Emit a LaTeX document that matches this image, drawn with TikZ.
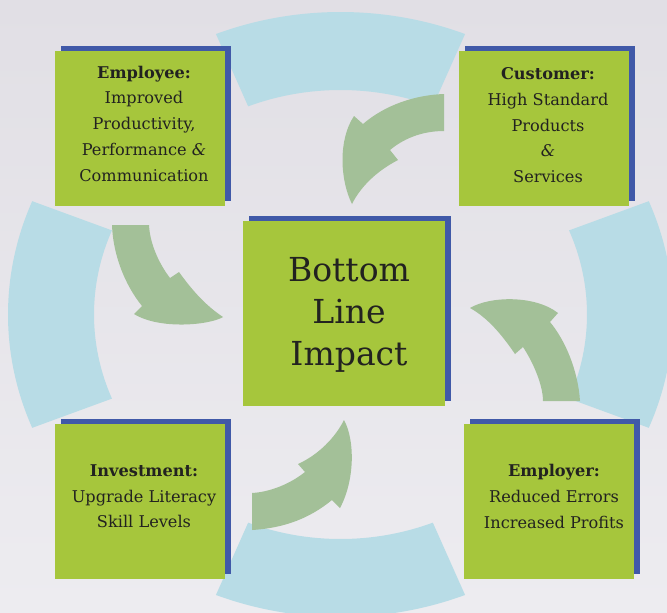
\documentclass[tikz,border=0pt]{standalone}
\usepackage{fontspec}
\setmainfont{DejaVu Serif}
\usetikzlibrary{shadows}
\definecolor{cardgreen}{RGB}{166,198,60}
\definecolor{cardblue}{RGB}{64,89,168}
\definecolor{ringblue}{RGB}{184,220,230}
\definecolor{arrowgreen}{RGB}{163,192,152}
\definecolor{bgtop}{RGB}{225,223,229}
\definecolor{bgbottom}{RGB}{237,236,240}
\definecolor{inkgray}{RGB}{34,34,32}
\newcommand{\amp}{\textit{\&}}
\newcommand{\padded}[3]{\hspace*{#1}\raisebox{0pt}[\height][\dimexpr\depth+#2\relax]{%
  \begin{tabular}{@{}c@{}}#3\end{tabular}}}

\begin{document}
\begin{tikzpicture}[x=0.025cm, y=-0.025cm,
    card/.style={fill=cardgreen, text=inkgray,
      minimum width=4.25cm, minimum height=3.875cm,
      font=\fontsize{11.5}{18.3}\selectfont,
      general shadow={fill=cardblue, shadow xshift=0.15cm, shadow yshift=0.125cm}},
    hub/.style={card, minimum width=5.05cm, minimum height=4.625cm,
      font=\fontsize{23.5}{29.8}\selectfont},
    ring/.style={fill=ringblue},
    bendarrow/.style={fill=arrowgreen}]
  \useasboundingbox (0,0) rectangle (667,613);
  \clip (0,0) rectangle (667,613);
  \shade[top color=bgtop, bottom color=bgbottom] (0,0) rectangle (667,613);

  \begin{scope}[shift={(340.5,314.5)}]
    \foreach \a in {0,90,180,270}
      \fill[ring] (\a-22:332.5 and 302.5)
        arc[start angle=\a-22, end angle=\a+22, x radius=332.5, y radius=302.5]
        -- (\a+22:246.5 and 224.5)
        arc[start angle=\a+22, end angle=\a-22, x radius=246.5, y radius=224.5]
        -- cycle;
  \end{scope}

  \fill[bendarrow] (444,94) -- (444,131) .. controls (420,131) and (402,140) .. (390,150)
    -- (398,160) .. controls (375,172) and (360,188) .. (352,204)
    .. controls (340,180) and (338,140) .. (354,116) -- (363,124)
    .. controls (385,105) and (415,95) .. (444,94) -- cycle;
  \fill[bendarrow] (112,225) -- (149,225) .. controls (150,245) and (160,265) .. (170,278)
    -- (179,272) .. controls (192,290) and (205,305) .. (223,317)
    .. controls (210,325) and (160,330) .. (134,314) -- (142,306)
    .. controls (125,285) and (113,255) .. (112,225) -- cycle;
  \fill[bendarrow] (252,530) -- (252,493) .. controls (270,492) and (290,484) .. (305,472)
    -- (298,464) .. controls (318,455) and (335,438) .. (344,420)
    .. controls (355,440) and (355,480) .. (340,508) -- (332,500)
    .. controls (310,518) and (285,528) .. (252,530) -- cycle;
  \fill[bendarrow] (580,401) -- (543,401) .. controls (543,385) and (533,362) .. (523,347)
    -- (515,354) .. controls (502,335) and (488,318) .. (470,308)
    .. controls (490,296) and (535,295) .. (558,313) -- (550,322)
    .. controls (565,340) and (578,370) .. (580,401) -- cycle;

  \node[hub] (impact) at (344,313.5) {\padded{0.25cm}{-0.1cm}{Bottom\\Line\\Impact}};
  \node[card] (employee) at (140,128.5) {\padded{0.2cm}{0.2cm}
    {\textbf{Employee:}\\Improved\\Productivity,\\Performance \amp\\Communication}};
  \node[card] (customer) at (544,128.5) {\padded{0.2cm}{0.12cm}
    {\textbf{Customer:}\\High Standard\\Products\\\amp\\Services}};
  \node[card] (investment) at (140,501.5) {\padded{0.2cm}{0.22cm}
    {\textbf{Investment:}\\Upgrade Literacy\\Skill Levels}};
  \node[card] (employer) at (549,501.5) {\padded{0.25cm}{0.2cm}
    {\textbf{Employer:}\\Reduced Errors\\Increased Profits}};
\end{tikzpicture}
\end{document}
